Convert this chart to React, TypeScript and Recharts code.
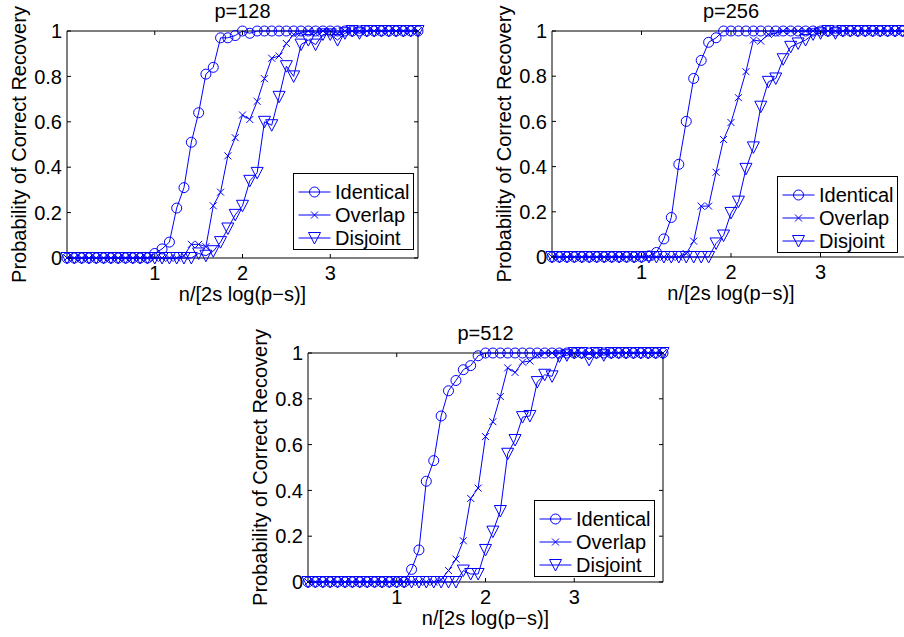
import React from "react";
import { LineChart, Line, XAxis, YAxis, ReferenceArea, Legend } from "recharts";

// x = n/[2s log(p-s)] grid shared by all three panels
const xs = [
  0, 0.083, 0.167, 0.25, 0.333, 0.417, 0.5, 0.583, 0.667, 0.75, 0.833, 0.917,
  1, 1.083, 1.167, 1.25, 1.333, 1.417, 1.5, 1.583, 1.667, 1.75, 1.833, 1.917,
  2, 2.083, 2.167, 2.25, 2.333, 2.417, 2.5, 2.583, 2.667, 2.75, 2.833, 2.917,
  3, 3.083, 3.167, 3.25, 3.333, 3.417, 3.5, 3.583, 3.667, 3.75, 3.833, 3.917, 4,
];

const xTicks = [1, 2, 3];
const yTicks = [0, 0.2, 0.4, 0.6, 0.8, 1];
const seriesKeys = ["identical", "overlap", "disjoint"];
const seriesNames = ["Identical", "Overlap", "Disjoint"];

// p = 128
const identical128 = [
  0, 0, 0, 0, 0, 0, 0, 0, 0, 0, 0, 0,
  0.02, 0.04, 0.07, 0.22, 0.31, 0.51, 0.64, 0.81, 0.84, 0.97, 0.97, 0.98,
  1, 0.99, 1, 1, 1, 1, 1, 1, 1, 1, 1, 1,
  1, 1, 1, 1, 1, 1, 1, 1, 1, 1, 1, 1, 1,
];
const overlap128 = [
  0, 0, 0, 0, 0, 0, 0, 0, 0, 0, 0, 0,
  0, 0, 0, 0, 0.01, 0.06, 0.06, 0.05, 0.23, 0.29, 0.45, 0.53,
  0.63, 0.61, 0.69, 0.79, 0.88, 0.89, 0.945, 0.985, 0.99, 1, 0.99, 1,
  1, 0.99, 1, 1, 1, 1, 1, 1, 1, 1, 1, 1, 1,
];
const disjoint128 = [
  0, 0, 0, 0, 0, 0, 0, 0, 0, 0, 0, 0,
  0, 0, 0, 0, 0, 0, 0.02, 0.01, 0.03, 0.07, 0.13, 0.19,
  0.23, 0.34, 0.375, 0.6, 0.585, 0.71, 0.845, 0.8, 0.94, 0.96, 0.94, 0.985,
  0.985, 0.96, 0.99, 1, 0.99, 1, 1, 1, 1, 1, 1, 1, 1,
];

// p = 256
const identical256 = [
  0, 0, 0, 0, 0, 0, 0, 0, 0, 0, 0, 0,
  0, 0.005, 0.02, 0.08, 0.175, 0.41, 0.6, 0.79, 0.87, 0.95, 0.97, 1,
  1, 1, 1, 1, 1, 1, 1, 1, 1, 1, 1, 1,
  1, 1, 1, 1, 1, 1, 1, 1, 1, 1, 1, 1, 1,
];
const overlap256 = [
  0, 0, 0, 0, 0, 0, 0, 0, 0, 0, 0, 0,
  0, 0, 0, 0, 0, 0, 0.015, 0.07, 0.225, 0.225, 0.375, 0.52,
  0.595, 0.705, 0.82, 0.96, 0.955, 0.985, 0.99, 1, 1, 1, 1, 1,
  1, 1, 1, 1, 1, 1, 1, 1, 1, 1, 1, 1, 1,
];
const disjoint256 = [
  0, 0, 0, 0, 0, 0, 0, 0, 0, 0, 0, 0,
  0, 0, 0, 0, 0, 0, 0, 0, 0, 0, 0.06, 0.095,
  0.195, 0.245, 0.39, 0.485, 0.665, 0.775, 0.79, 0.875, 0.93, 0.945, 0.96, 0.985,
  0.99, 1, 0.99, 1, 1, 1, 1, 1, 1, 1, 1, 1, 1,
];

// p = 512
const identical512 = [
  0, 0, 0, 0, 0, 0, 0, 0, 0, 0, 0, 0,
  0, 0, 0.055, 0.14, 0.44, 0.53, 0.725, 0.835, 0.88, 0.927, 0.945, 0.988,
  1, 1, 1, 1, 1, 1, 1, 1, 1, 1, 1, 1,
  1, 1, 1, 1, 1, 1, 1, 1, 1, 1, 1, 1, 1,
];
const overlap512 = [
  0, 0, 0, 0, 0, 0, 0, 0, 0, 0, 0, 0,
  0, 0, 0, 0, 0, 0, 0.01, 0.05, 0.1, 0.18, 0.365, 0.41,
  0.635, 0.7, 0.81, 0.935, 0.915, 0.96, 0.965, 0.99, 1, 1, 1, 1,
  1, 1, 1, 1, 1, 1, 1, 1, 1, 1, 1, 1, 1,
];
const disjoint512 = [
  0, 0, 0, 0, 0, 0, 0, 0, 0, 0, 0, 0,
  0, 0, 0, 0, 0, 0, 0, 0, 0, 0.05, 0.035, 0.035,
  0.14, 0.22, 0.31, 0.56, 0.62, 0.72, 0.725, 0.873, 0.905, 0.898, 0.985, 0.99,
  1, 1, 0.97, 1, 0.99, 1, 1, 1, 1, 1, 1, 1, 1,
];

const BLUE = "#0000ff";
const FONT = "'Liberation Sans', Arial, Helvetica, sans-serif";

type MarkerKind = "circle" | "cross" | "triangle";
const markerOf: Record<string, MarkerKind> = {
  identical: "circle",
  overlap: "cross",
  disjoint: "triangle",
};

function buildRows(a: number[], b: number[], c: number[]) {
  return xs.map((x, i) => ({ x, identical: a[i], overlap: b[i], disjoint: c[i] }));
}

const rows128 = buildRows(identical128, overlap128, disjoint128);
const rows256 = buildRows(identical256, overlap256, disjoint256);
const rows512 = buildRows(identical512, overlap512, disjoint512);

function drawMarker(kind: MarkerKind, cx: number, cy: number, key?: any) {
  if (kind === "circle") {
    return <circle key={key} cx={cx} cy={cy} r={5} fill="none" stroke={BLUE} strokeWidth={1} />;
  }
  if (kind === "cross") {
    const s = 3.5;
    return (
      <path
        key={key}
        d={`M${cx - s},${cy - s}L${cx + s},${cy + s}M${cx - s},${cy + s}L${cx + s},${cy - s}`}
        fill="none"
        stroke={BLUE}
        strokeWidth={1}
      />
    );
  }
  return (
    <path
      key={key}
      d={`M${cx - 6},${cy - 5.5}L${cx + 6},${cy - 5.5}L${cx},${cy + 6}Z`}
      fill="none"
      stroke={BLUE}
      strokeWidth={1}
    />
  );
}

// legend keeps the plotting order (Recharts sorts its payload by name)
function LegendBox() {
  return (
    <div
      style={{
        width: 121,
        height: 77,
        boxSizing: "border-box",
        border: "1px solid #000",
        background: "#fff",
        paddingTop: 6,
        fontFamily: FONT,
        fontSize: 20,
        color: "#000",
      }}
    >
      {seriesKeys.map((key, i) => (
        <div key={key} style={{ display: "flex", alignItems: "center", height: 23.3 }}>
          <svg width={41} height={22} style={{ flex: "none" }}>
            <line x1={4.5} x2={36.5} y1={11} y2={11} stroke={BLUE} strokeWidth={1} />
            {drawMarker(markerOf[key], 20.5, 11)}
          </svg>
          <span style={{ lineHeight: "22px", whiteSpace: "nowrap" }}>{seriesNames[i]}</span>
        </div>
      ))}
    </div>
  );
}

const ML = 75;
const MT = 40;
const MR = 12;
const MB = 55;
const Y_AXIS_W = 60;
const X_AXIS_H = 30;

interface SubplotProps {
  px: number;
  py: number;
  w: number;
  h: number;
  title: string;
  data: any[];
  legendAt: [number, number];
}

function Subplot({ px, py, w, h, title, data, legendAt }: SubplotProps) {
  const cw = ML + w + MR;
  const ch = MT + h + MB;
  const left = ML;
  const top = MT;
  const right = ML + w;
  const bottom = MT + h;

  const xTick = (props: any) => {
    const { x, payload } = props;
    return (
      <g>
        <line x1={x} x2={x} y1={bottom} y2={bottom - 4} stroke="#000" strokeWidth={1} />
        <line x1={x} x2={x} y1={top} y2={top + 4} stroke="#000" strokeWidth={1} />
        <text x={x} y={bottom + 22} textAnchor="middle" fontSize={20} fontFamily={FONT} fill="#000">
          {payload.value}
        </text>
      </g>
    );
  };

  const yTick = (props: any) => {
    const { y, payload } = props;
    return (
      <g>
        <line x1={left} x2={left + 4} y1={y} y2={y} stroke="#000" strokeWidth={1} />
        <line x1={right - 4} x2={right} y1={y} y2={y} stroke="#000" strokeWidth={1} />
        <text x={left - 5} y={y} dy="0.36em" textAnchor="end" fontSize={20} fontFamily={FONT} fill="#000">
          {String(payload.value)}
        </text>
      </g>
    );
  };

  return (
    <div style={{ position: "absolute", left: px - ML, top: py - MT, width: cw, height: ch }}>
      <LineChart
        width={cw}
        height={ch}
        data={data}
        margin={{ top: MT, right: MR, bottom: MB - X_AXIS_H, left: ML - Y_AXIS_W }}
      >
        <XAxis
          dataKey="x"
          type="number"
          domain={[0, 4]}
          ticks={xTicks}
          interval={0}
          tick={xTick}
          tickLine={false}
          axisLine={false}
          height={X_AXIS_H}
        />
        <YAxis
          type="number"
          domain={[0, 1]}
          ticks={yTicks}
          interval={0}
          tick={yTick}
          tickLine={false}
          axisLine={false}
          width={Y_AXIS_W}
        />
        <ReferenceArea x1={0} x2={4} y1={0} y2={1} fill="none" stroke="#000" strokeWidth={1} />
        {seriesKeys.map((key, i) => (
          <Line
            key={key}
            dataKey={key}
            name={seriesNames[i]}
            type="linear"
            stroke={BLUE}
            strokeWidth={1}
            dot={(p: any) => drawMarker(markerOf[key], p.cx, p.cy, p.key ?? `${key}-${p.index}`)}
            activeDot={false}
            isAnimationActive={false}
          />
        ))}
        <Legend
          layout="vertical"
          align="center"
          verticalAlign="middle"
          wrapperStyle={{ left: ML + legendAt[0], top: MT + legendAt[1], width: 121, height: 77 }}
          content={() => <LegendBox />}
        />
      </LineChart>
      <svg
        width={cw}
        height={ch}
        style={{ position: "absolute", left: 0, top: 0, pointerEvents: "none", overflow: "visible" }}
      >
        <text x={ML + w / 2} y={MT - 13} textAnchor="middle" fontSize={20} fontFamily={FONT} fill="#000">
          {title}
        </text>
        <text x={ML + w / 2} y={bottom + 43} textAnchor="middle" fontSize={20} fontFamily={FONT} fill="#000">
          n/[2s log(p−s)]
        </text>
        <text
          x={ML - 41}
          y={MT + h / 2}
          textAnchor="middle"
          fontSize={20}
          fontFamily={FONT}
          fill="#000"
          transform={`rotate(-90, ${ML - 41}, ${MT + h / 2})`}
        >
          Probability of Correct Recovery
        </text>
      </svg>
    </div>
  );
}

export default function App() {
  return (
    <div
      style={{
        position: "fixed",
        left: 0,
        top: 0,
        width: 904,
        height: 637,
        overflow: "hidden",
        background: "#fff",
        fontFamily: FONT,
      }}
    >
      <Subplot px={67} py={31} w={351} h={227} title="p=128" data={rows128} legendAt={[226, 142]} />
      <Subplot px={552} py={31} w={358} h={226} title="p=256" data={rows256} legendAt={[225, 145]} />
      <Subplot px={308} py={353} w={355} h={229} title="p=512" data={rows512} legendAt={[226, 147]} />
    </div>
  );
}
